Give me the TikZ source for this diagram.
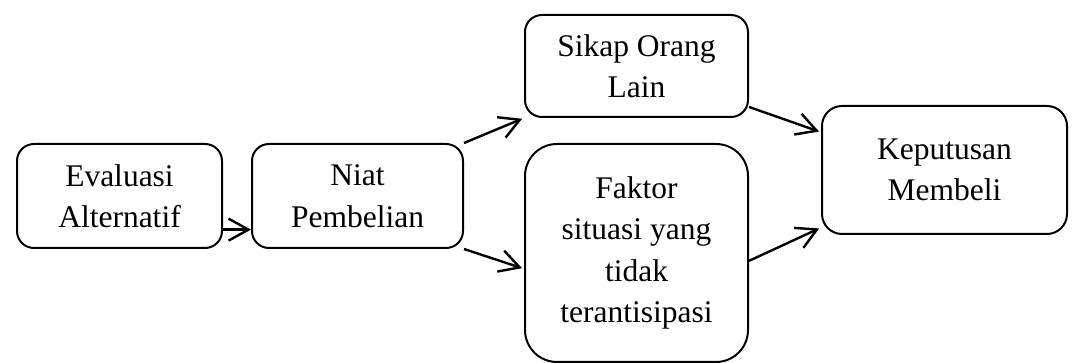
\documentclass[tikz,border=0pt]{standalone}
\usepackage{fontspec}
\setmainfont{Liberation Serif}
\usetikzlibrary{arrows.meta}

\begin{document}
\begin{tikzpicture}[x=0.5pt, y=-0.5pt,
  box/.style={draw, rounded corners=8.5pt, line width=1pt, align=center, inner sep=0pt, font=\fontsize{15.75}{20.75}\selectfont},
  arr/.style={-{Straight Barb[length=10pt,width=11pt]}, line width=1.2pt}]
  \useasboundingbox (0,0) rectangle (1073,363);
  \node[box, minimum width=102.5pt, minimum height=52pt] (eval) at (119.5,196) {Evaluasi\\Alternatif};
  \node[box, minimum width=105.5pt, minimum height=52pt] (niat) at (357.5,196) {Niat\\Pembelian};
  \node[box, minimum width=111.5pt, minimum height=51pt] (sikap) at (636.5,66) {Sikap Orang\\Lain};
  \node[box, rounded corners=16pt, minimum width=111.5pt, minimum height=109pt] (faktor) at (636.5,253) {Faktor\\situasi yang\\tidak\\terantisipasi};
  \node[box, rounded corners=10pt, minimum width=122.5pt, minimum height=64pt] (kep) at (944.5,170) {Keputusan\\Membeli};

  \draw[arr] (eval.-18) -- (eval.-18 -| niat.west);
  \draw[arr, shorten >=1pt] (niat.north east) -- (sikap.south west);
  \draw[arr, shorten >=1pt] (niat.south east) -- (faktor.-172);
  \draw[arr, shorten >=1pt] (sikap.-20) -- (kep.163);
  \draw[arr, shorten >=1pt] (faktor.-4) -- (kep.205);
\end{tikzpicture}
\end{document}
